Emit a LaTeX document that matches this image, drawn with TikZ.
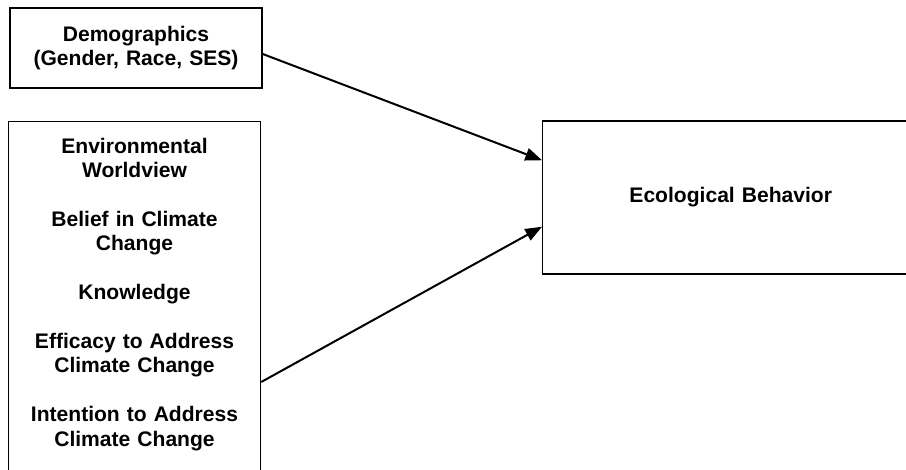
\documentclass[tikz,border=0pt]{standalone}
\usepackage{fontspec}
\setmainfont{Liberation Sans}
\usetikzlibrary{positioning}
\usetikzlibrary{arrows,arrows.meta}
\usetikzlibrary{calc}

\tikzset{
    factor/.style={draw, line width=1.1pt, align=center, inner xsep=0pt,
        font=\fontsize{15.8pt}{18.3pt}\selectfont\bfseries},
    link/.style={->, line width=1.5pt}
}

\begin{document}
\begin{tikzpicture}[x=0.75pt, y=-0.75pt, >={Triangle[length=12.5pt,width=9.5pt]}]

    \useasboundingbox (0,0) rectangle (906,470);
    \clip (0,0) rectangle (906,470);

    % Kasten links
    \node[factor, minimum width=189pt, minimum height=60pt, text width=180pt] (demo) at (136,48)
        {Demographics\\(Gender, Race, SES)};
    \node[factor, anchor=north, minimum width=189pt, text width=180pt,
          inner ysep=12.4pt, text height=11.3pt, text depth=300pt] (views) at (134.5,121)
        {Environmental\\Worldview\\[18.3pt]
         Belief in Climate\\Change\\[18.3pt]
         Knowledge\\[18.3pt]
         Efficacy to Address\\Climate Change\\[18.3pt]
         Intention to Address\\Climate Change};

    % Kasten rechts (laeuft rechts aus dem Bild)
    \node[factor, anchor=west, align=left, text width=360pt, minimum height=114.75pt] (eco) at (542,197.5)
        {\makebox[282pt]{Ecological Behavior}};

    \draw[link] ([yshift=-4.5pt]demo.east) -- ([yshift=-30pt]eco.north west);
    \draw[link] ([yshift=-195.75pt]views.north east) -- ([yshift=36pt]eco.south west);
\end{tikzpicture}
\end{document}
